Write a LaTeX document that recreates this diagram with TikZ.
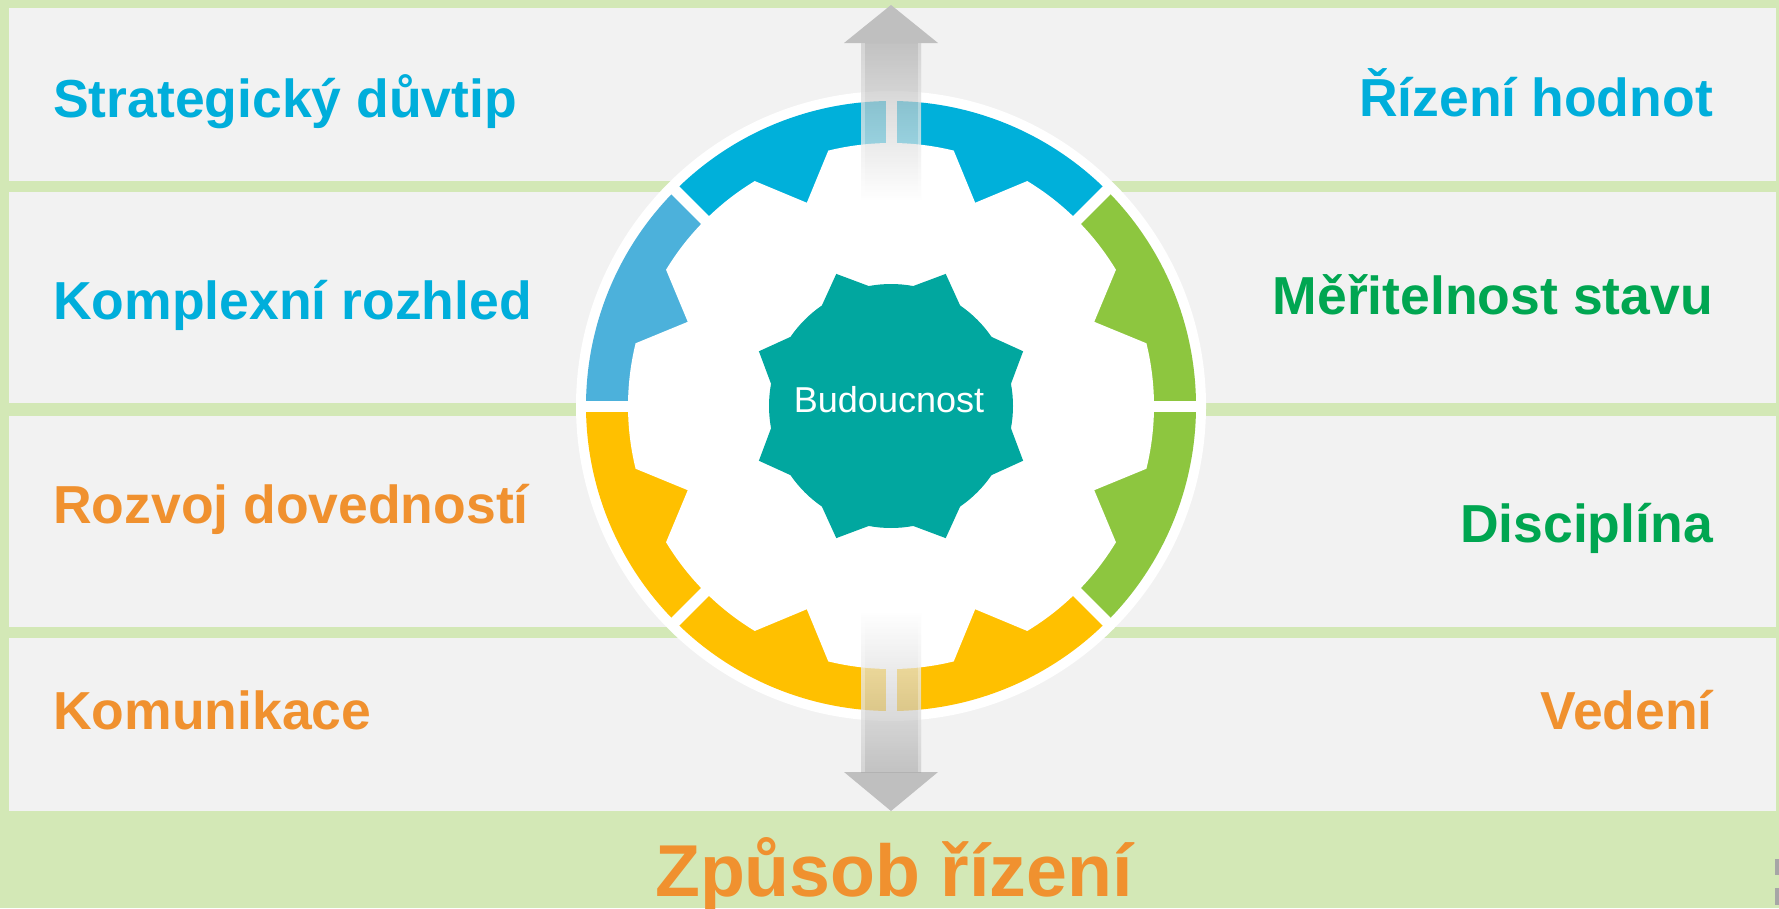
\documentclass[tikz,border=0pt]{standalone}
\usepackage{fontspec}
\setmainfont{Liberation Sans}
\definecolor{bgGreen}{HTML}{D3E8B6}
\definecolor{panel}{HTML}{F2F2F2}
\definecolor{cyanT}{HTML}{00AEDB}
\definecolor{greenT}{HTML}{00A651}
\definecolor{orangeT}{HTML}{F0912F}
\definecolor{segBlue}{HTML}{00B0DA}
\definecolor{segLBlue}{HTML}{4CB1DB}
\definecolor{segGreen}{HTML}{8DC63F}
\definecolor{segYellow}{HTML}{FFC000}
\definecolor{tealG}{HTML}{01A79F}
\definecolor{arrowGray}{HTML}{BFBFBF}
\definecolor{shaftGray}{RGB}{172,172,172}
\definecolor{markGray}{HTML}{A6A6A6}
\begin{document}
\begin{tikzpicture}[x=1pt,y=-1pt,
  lbl/.style={inner sep=0pt, font=\fontsize{53.5}{60}\selectfont\bfseries},
  lblL/.style={lbl, anchor=base west},
  lblR/.style={lbl, anchor=base east},
  rowpanel/.style={fill=panel},
  shaft/.style={fill opacity=0.68},
  gap/.style={draw=white, line width=11pt}]
\useasboundingbox (0,0) rectangle (1779,908);
\fill[bgGreen] (0,0) rectangle (1779,908);
% rows
\fill[rowpanel] (9,8) rectangle (1776,181);
\fill[rowpanel] (9,192) rectangle (1776,403);
\fill[rowpanel] (9,416) rectangle (1776,627);
\fill[rowpanel] (9,638) rectangle (1776,811);
% small marks at right edge
\fill[markGray] (1775,859) rectangle (1779,875);
\fill[markGray] (1775,888) rectangle (1779,905);
% labels
\node[lblL, text=cyanT] (l1) at (53,117) {Strategický důvtip};
\node[lblL, text=cyanT] (l2) at (53,319) {Komplexní rozhled};
\node[lblL, text=orangeT] (l3) at (53,523) {Rozvoj dovedností};
\node[lblL, text=orangeT] (l4) at (53,729) {Komunikace};
\node[lblR, text=cyanT] (r1) at (1713,116) {Řízení hodnot};
\node[lblR, text=greenT] (r2) at (1713,314) {Měřitelnost stavu};
\node[lblR, text=greenT] (r3) at (1713,542) {Disciplína};
\node[lblR, text=orangeT] (r4) at (1713,729) {Vedení};
\node[inner sep=0pt, anchor=base, text=orangeT, font=\fontsize{73.5}{80}\selectfont\bfseries] (bottom) at (894,896) {Způsob řízení};
% wheel
\begin{scope}[shift={(891,406)}, y=1pt]
  \fill[white] (0,0) circle[radius=315];
  \foreach \k/\c in {0/segGreen,1/segBlue,2/segBlue,3/segLBlue,4/segYellow,5/segYellow,6/segYellow,7/segGreen}{
    \fill[\c] ({45*\k}:305) arc[start angle={45*\k}, end angle={45*\k+45}, radius=305]
      -- ({45*\k+45}:210) arc[start angle={45*\k+45}, end angle={45*\k}, radius=210] -- cycle;
  }
  % white gear
  \fill[white] (22.5:220)
    \foreach \k in {0,...,7}{
      -- ({22.5+45*\k+8.7}:263) arc[start angle={22.5+45*\k+8.7}, end angle={67.5+45*\k-8.7}, radius=263]
      -- ({67.5+45*\k}:220)
    } -- cycle;
  \foreach \k in {0,...,7}{
    \draw[gap] ({45*\k}:240) -- ({45*\k}:310);
  }
\end{scope}
% arrow
\fill[arrowGray] (844,43) -- (891,5) -- (938,43) -- cycle;
\fill[arrowGray] (844,772) -- (891,811) -- (938,772) -- cycle;
\shade[shaft, top color=shaftGray, bottom color=white] (861,43) rectangle (921,200);
\shade[shaft, top color=white, bottom color=shaftGray] (861,612) rectangle (921,772);
\fill[white, opacity=0.3] (861,43) rectangle (865,270);
\fill[white, opacity=0.3] (918,43) rectangle (921,270);
\fill[white, opacity=0.3] (861,540) rectangle (865,772);
\fill[white, opacity=0.3] (918,540) rectangle (921,772);
% teal gear
\begin{scope}[shift={(891,406)}, y=1pt]
  \fill[tealG] (10.5:122)
    \foreach \k in {0,...,7}{
      -- ({22.5+45*\k}:143) -- ({34.5+45*\k}:122)
      arc[start angle={34.5+45*\k}, end angle={55.5+45*\k}, radius=122]
    } -- cycle;
\end{scope}
\node[inner sep=0pt, anchor=base, text=white, font=\fontsize{36}{40}\selectfont] (center) at (889,412.7) {Budoucnost};
\end{tikzpicture}
\end{document}
